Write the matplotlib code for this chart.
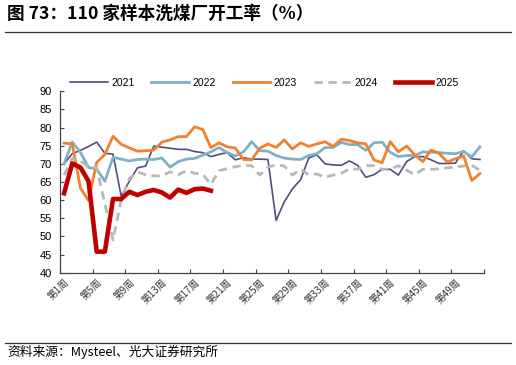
import numpy as np
import matplotlib
matplotlib.use('Agg')
import matplotlib.pyplot as plt
from matplotlib.lines import Line2D

plt.rcParams['font.family'] = ['Liberation Sans', 'Noto Sans CJK SC', 'DejaVu Sans']

weeks = np.arange(1, 53)
tick_weeks = np.arange(1, 53, 4)
tick_labels = ['第{}周'.format(w) for w in tick_weeks]

y2021 = [70.0, 72.8, 73.7, 74.8, 76.0, 72.9, 72.7, 61.1, 65.2, 68.9,
         69.4, 74.9, 74.6, 74.3, 74.0, 74.0, 73.4, 73.1, 72.0, 72.6,
         73.1, 71.1, 71.7, 71.3, 71.3, 71.2, 54.4, 59.5, 63.1, 65.6,
         71.6, 72.5, 70.0, 69.7, 69.6, 70.8, 69.6, 66.3, 67.0, 68.5,
         68.5, 66.9, 70.6, 72.0, 72.0, 71.1, 70.1, 70.1, 70.2, 73.6,
         71.4, 71.2]
y2022 = [70.0, 76.0, 73.2, 69.0, 68.6, 65.2, 71.8, 71.3, 70.8, 71.2,
         71.3, 71.2, 71.6, 69.1, 70.6, 71.3, 71.5, 72.4, 73.3, 74.5,
         73.1, 72.2, 73.3, 76.1, 73.6, 73.5, 72.3, 71.6, 71.3, 71.2,
         72.3, 72.8, 74.5, 74.5, 75.9, 75.3, 75.3, 73.7, 75.8, 76.0,
         73.2, 72.0, 72.3, 72.3, 73.3, 73.2, 73.1, 72.9, 72.8, 73.4,
         71.9, 74.7]
y2023 = [75.7, 75.5, 63.3, 59.9, 70.4, 72.6, 77.6, 75.4, 74.4, 73.5,
         73.6, 73.8, 76.0, 76.6, 77.5, 77.5, 80.2, 79.5, 74.5, 75.8,
         74.7, 74.4, 71.2, 71.1, 74.3, 75.5, 74.5, 76.6, 74.1, 75.8,
         74.8, 75.5, 76.1, 74.8, 76.8, 76.4, 75.8, 75.5, 71.1, 70.3,
         76.1, 73.3, 74.9, 72.5, 70.6, 73.8, 72.9, 70.5, 71.4, 72.2,
         65.4, 67.3]
y2024 = [66.9, 71.5, 70.8, 69.2, 68.9, 59.0, 49.0, 60.0, 66.0, 67.8,
         67.0, 66.7, 66.7, 67.8, 67.0, 68.1, 67.4, 67.2, 64.3, 68.1,
         68.7, 69.2, 69.6, 69.5, 66.9, 69.1, 69.7, 69.4, 66.9, 68.5,
         67.0, 67.2, 66.3, 66.9, 67.4, 68.6, 68.5, 69.5, 69.5, 68.5,
         68.5, 69.5, 68.3, 67.0, 68.5, 68.5, 68.6, 68.9, 69.1, 69.4,
         69.6, 68.2]
y2025 = [61.9, 70.1, 69.0, 65.2, 45.8, 45.8, 60.3, 60.3, 62.3, 61.4,
         62.3, 62.8, 62.1, 60.7, 62.9, 62.0, 63.0, 63.2, 62.6]


def plot_rates():

    fig = plt.figure(figsize=(5.16, 3.65), dpi=100)
    ax = fig.add_axes([0.1163, 0.2529, 0.8217, 0.497])

    ax.plot(weeks, y2021, color='#4f4f7d', lw=1.2, label='2021')
    ax.plot(weeks, y2022, color='#7fb1c9', lw=2.0, label='2022')
    ax.plot(weeks, y2023, color='#f0812f', lw=2.0, label='2023')
    ax.plot(weeks, y2024, color='#b8b8b8', lw=2.0, ls=(0, (3, 2)), label='2024')
    ax.plot(weeks[:len(y2025)], y2025, color='#c00000', lw=3.3, label='2025')

    ax.set_xlim(0.5, 52.5)
    ax.set_ylim(40, 90)
    ax.set_yticks(np.arange(40, 91, 5))

    # tick marks sit between weeks, labels on every 4th week
    ax.set_xticks(np.arange(0.5, 53, 4))
    ax.set_xticklabels([])
    ax.set_xticks(tick_weeks, minor=True)
    ax.set_xticklabels(tick_labels, minor=True, rotation=45, ha='right',
                       va='top', rotation_mode='anchor', fontsize=7,
                       color='#333333', family=['Noto Sans CJK SC'])
    ax.tick_params(axis='x', which='minor', length=0, pad=3)
    ax.tick_params(axis='x', which='major', direction='in', length=3,
                   color='#444444')
    ax.tick_params(axis='y', direction='in', length=3, color='#444444',
                   labelsize=8, pad=6)

    for s in ['top', 'right']:
        ax.spines[s].set_visible(False)
    for s in ['left', 'bottom']:
        ax.spines[s].set_color('#444444')
        ax.spines[s].set_linewidth(0.9)

    fig.legend(loc='center', bbox_to_anchor=(0.513, 0.773), ncol=5,
               frameon=False, fontsize=7.5, handlelength=3.6,
               handletextpad=0.35, columnspacing=1.6)

    fig.text(0.014, 0.962, '图 73：110 家样本洗煤厂开工率（%）', fontsize=12.7,
             fontweight='bold', va='center', ha='left',
             family=['Noto Sans CJK SC'])
    fig.add_artist(Line2D([0.01, 0.99], [0.913, 0.913], color='#333333', lw=0.9))
    fig.add_artist(Line2D([0.01, 0.99], [0.061, 0.061], color='#333333', lw=0.9))
    fig.text(0.014, 0.036, '资料来源：Mysteel、光大证券研究所', fontsize=9.2,
             va='center', ha='left', family=['Noto Sans CJK SC'])

    fig.savefig('out.png', dpi=100)


def main():
    plot_rates()


if __name__ == '__main__':
    main()
